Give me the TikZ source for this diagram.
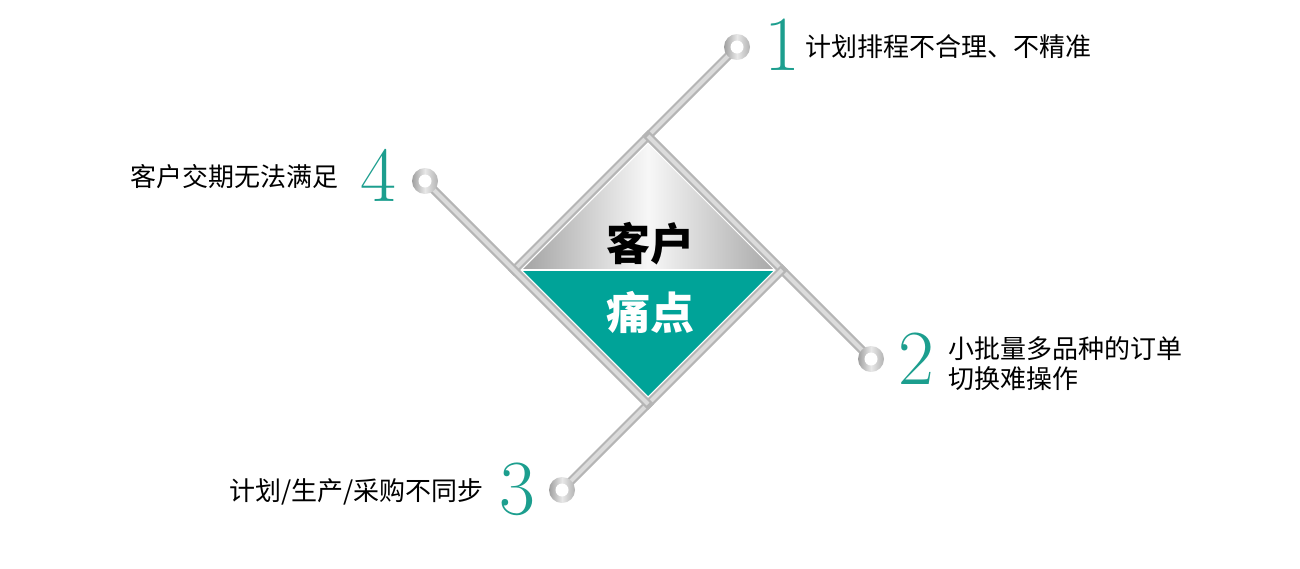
\documentclass[tikz,border=0pt]{standalone}
\usepackage{fontspec}
\newfontfamily\cjk{Noto Sans CJK SC}
\definecolor{tealfill}{RGB}{0,163,152}
\definecolor{digitcol}{RGB}{28,158,142}
\begin{document}
\begin{tikzpicture}[x=1pt,y=-1pt,
  barouter/.style={line width=8.5pt,draw=gray!58,line cap=rect},
  barmid/.style={line width=4pt,draw=gray!28},
  ringshade/.style={left color=gray!75,right color=gray!60,middle color=gray!18},
  digit/.style={text=digitcol,font=\fontsize{78}{80}\selectfont,inner sep=0pt},
  label/.style={font=\cjk\fontsize{26}{30}\selectfont,text=black,inner sep=0pt,align=left},
  centertext/.style={font=\cjk\bfseries\fontsize{44}{48}\selectfont,inner sep=0pt}]
\useasboundingbox (0,0) rectangle (1300,568);
% frame corners
\coordinate (t) at (648,136);
\coordinate (l) at (514,270);
\coordinate (b) at (648,404);
\coordinate (r) at (782,270);
% circle centres
\coordinate (c1) at (737,47);
\coordinate (c2) at (871,359);
\coordinate (c3) at (562,490);
\coordinate (c4) at (425,181);
% fill corners
\coordinate (ft) at (648,144);
\coordinate (fl) at (522,270);
\coordinate (fr) at (774,270);
\coordinate (fb) at (648,396);
% bars
\foreach \a/\z in {c1/l,c2/t,c3/r,c4/b}{
  \draw[barouter] (\a)--(\z);
  \draw[barmid] (\a)--(\z);
}
% circles
\foreach \c in {c1,c2,c3,c4}{
  \shade[ringshade] (\c) circle[radius=13];
  \fill[white] (\c) circle[radius=6.5];
}
% centre diamond
\shade[left color=gray!72,right color=gray!68,middle color=gray!6] (fl)--(ft)--(fr)--cycle;
\fill[tealfill] (fl)--(fb)--(fr)--cycle;
\draw[white,line width=1.2pt] (fl)--(fr);
\node[centertext,text=black] (kehu) at (650,244) {客户};
\node[centertext,text=white] (tongdian) at (650,312) {痛点};
% digits
\node[digit] (d1) at (782,45) {1};
\node[digit] (d2) at (916,359) {2};
\node[digit] (d3) at (517,489) {3};
\node[digit] (d4) at (378,175) {4};
% labels
\node[label,anchor=west] (t1) at (805,47) {计划排程不合理、不精准};
\node[label,anchor=west] (t2) at (948,364) {小批量多品种的订单\\切换难操作};
\node[label,anchor=east] (t3) at (484,492) {计划/生产/采购不同步};
\node[label,anchor=east] (t4) at (339,177) {客户交期无法满足};
\end{tikzpicture}
\end{document}
